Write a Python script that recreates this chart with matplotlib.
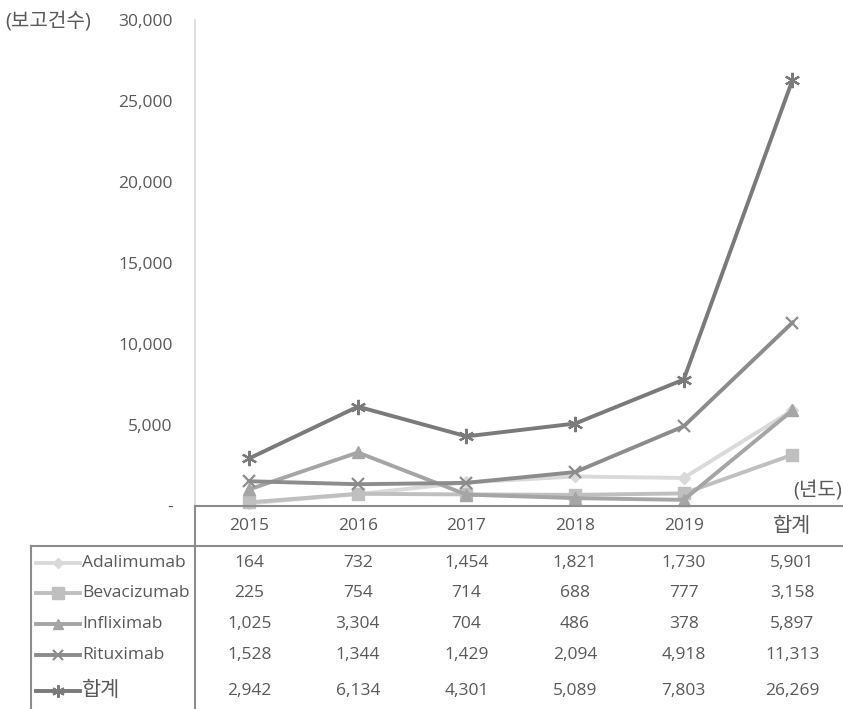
import matplotlib.pyplot as plt
from matplotlib.lines import Line2D
from matplotlib.transforms import blended_transform_factory

plt.rcParams['font.family'] = ['Open Sans', 'Noto Sans CJK KR', 'DejaVu Sans']

# 데이터
years = ['2015', '2016', '2017', '2018', '2019', '합계']
names = ['Adalimumab', 'Bevacizumab', 'Infliximab', 'Rituximab', '합계']
adalimumab = [164, 732, 1454, 1821, 1730, 5901]
bevacizumab = [225, 754, 714, 688, 777, 3158]
infliximab = [1025, 3304, 704, 486, 378, 5897]
rituximab = [1528, 1344, 1429, 2094, 4918, 11313]
total = [2942, 6134, 4301, 5089, 7803, 26269]
yticks = [0, 5000, 10000, 15000, 20000, 25000, 30000]

series = [adalimumab, bevacizumab, infliximab, rituximab, total]
colors = ['#d9d9d9', '#bfbfbf', '#a5a5a5', '#8c8c8c', '#7a7a7a']
markers = ['D', 's', '^', 'x', (6, 2, 0)]
msizes = [6, 9, 9, 9, 11]
leg_ms = [5, 8, 7, 7, 9]

txt = '#595959'
fs = 12.5
W, H = 843, 709
fig = plt.figure(figsize=(W / 100, H / 100), dpi=100)

def fx(px):
    return px / W

def fy(py):
    return 1 - py / H

ax = fig.add_axes([fx(195), fy(506), fx(843) - fx(195), fy(20) - fy(506)])
x = list(range(len(years)))
for vals, c, m, ms in zip(series, colors, markers, msizes):
    ax.plot(x, vals, color=c, linewidth=2.8, marker=m, markersize=ms,
            markeredgewidth=1.6 if m in ('x', (6, 2, 0)) else 1, markeredgecolor=c,
            clip_on=False)

ax.set_xlim(-0.5, -0.5 + 648 / 108.6)
ax.set_ylim(0, 30000)
ax.set_xticks([])
ax.set_yticks(yticks)
ax.set_yticklabels(['-' if v == 0 else f'{v:,}' for v in yticks], color=txt, fontsize=fs)
ax.tick_params(axis='y', length=0, pad=16)
for s in ['top', 'right']:
    ax.spines[s].set_visible(False)
ax.spines['left'].set_color('#d9d9d9')
ax.spines['left'].set_linewidth(1.2)
ax.spines['bottom'].set_color('#8c8c8c')
ax.spines['bottom'].set_linewidth(1.5)

# 축 제목
fig.text(fx(5), fy(21), '(보고건수)', ha='left', va='center', color=txt, fontsize=14.5)
fig.text(fx(842), fy(492), '(년도)', ha='right', va='center', color=txt, fontsize=14.5)

# 표 선
line_c = '#8c8c8c'
fig.add_artist(Line2D([fx(195), fx(195)], [fy(506), 0], color=line_c, lw=1.5))
fig.add_artist(Line2D([fx(31), 1], [fy(546), fy(546)], color=line_c, lw=1.5))
fig.add_artist(Line2D([fx(31), fx(31)], [fy(546), 0], color=line_c, lw=1.5))

# 표 내용
tr = blended_transform_factory(ax.transData, fig.transFigure)
for i, y in enumerate(years):
    ax.text(i, fy(526), y, transform=tr, ha='center', va='center', color=txt,
            fontsize=fs if i < 5 else 15)

row_y = [563, 593, 624, 655, 691]
for name, vals, c, m, ms, ry in zip(names, series, colors, markers, leg_ms, row_y):
    fig.add_artist(Line2D([fx(36), fx(80)], [fy(ry), fy(ry)], color=c, lw=2.8))
    fig.add_artist(Line2D([fx(58)], [fy(ry)], color=c, marker=m, markersize=ms,
                          markeredgecolor=c,
                          markeredgewidth=1.5 if m in ('x', (6, 2, 0)) else 1))
    fig.text(fx(82), fy(ry), name, ha='left', va='center', color=txt,
             fontsize=fs if name != '합계' else 15)
    for i, v in enumerate(vals):
        ax.text(i, fy(ry), f'{v:,}', transform=tr, ha='center', va='center',
                color=txt, fontsize=fs)

fig.savefig('out.png', dpi=100)
